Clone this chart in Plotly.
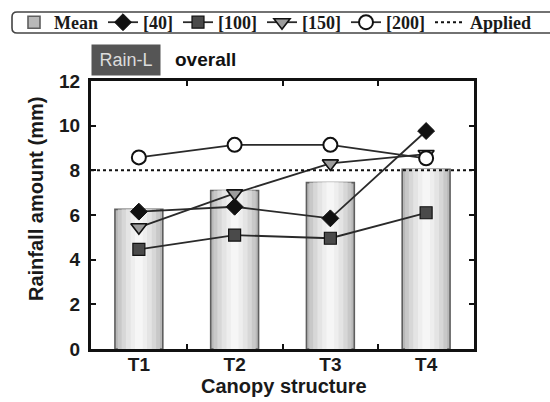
import plotly.graph_objects as go

# ---- data -------------------------------------------------------------
CATEGORIES = ["T1", "T2", "T3", "T4"]
MEAN = [6.25, 7.1, 7.45, 8.05]
S40 = [6.15, 6.37, 5.85, 9.76]
S100 = [4.46, 5.1, 4.96, 6.1]
S150 = [5.45, 6.97, 8.31, 8.73]
S200 = [8.58, 9.14, 9.14, 8.54]
APPLIED = 8.0
Y_TICKS = [0, 2, 4, 6, 8, 10, 12]

# ---- geometry (pixels) --------------------------------------------------
W, H = 550, 402
PX_L, PX_R, PX_T, PX_B = 91, 474, 81, 349

SANS = "Liberation Sans, Arial, sans-serif"
SERIF = "Liberation Serif, Times New Roman, serif"


def px_x(px):
    return px / W


def px_y(px):
    return 1 - px / H


def rounded_box(x0, y0, x1, y1, r):
    """SVG path (paper coords) of a rounded rectangle given in pixels."""
    X = lambda v: f"{px_x(v):.5f}"
    Y = lambda v: f"{px_y(v):.5f}"
    return (f"M{X(x0 + r)},{Y(y0)} L{X(x1 - r)},{Y(y0)} Q{X(x1)},{Y(y0)} {X(x1)},{Y(y0 + r)} "
            f"L{X(x1)},{Y(y1 - r)} Q{X(x1)},{Y(y1)} {X(x1 - r)},{Y(y1)} "
            f"L{X(x0 + r)},{Y(y1)} Q{X(x0)},{Y(y1)} {X(x0)},{Y(y1 - r)} "
            f"L{X(x0)},{Y(y0 + r)} Q{X(x0)},{Y(y0)} {X(x0 + r)},{Y(y0)} Z")


fig = go.Figure()

# Mean bars: a wide darker layer under narrower lighter ones gives a shaded column
shade = [(0.50, "#b8b8b8"), (0.44, "#c8c8c8"), (0.36, "#d7d7d7"),
         (0.27, "#e4e4e4"), (0.17, "#eeeeee"), (0.08, "#f6f6f6")]
for i, (w, c) in enumerate(shade):
    fig.add_bar(
        x=CATEGORIES, y=MEAN, width=w, name="Mean", legendgroup="mean",
        showlegend=(i == 0), hoverinfo="skip",
        marker=dict(color=c, line=dict(color="#5e5e5e" if i == 0 else c,
                                       width=1.6 if i == 0 else 0)),
    )

series = [
    ("[40]", S40, dict(symbol="diamond", size=13, color="#111111",
                       line=dict(color="#111111", width=1))),
    ("[100]", S100, dict(symbol="square", size=12, color="#4a4a4a",
                         line=dict(color="#111111", width=1.2))),
    ("[150]", S150, dict(symbol="triangle-down", size=14, color="#9c9c9c",
                         line=dict(color="#111111", width=1.6))),
    ("[200]", S200, dict(symbol="circle", size=14, color="white",
                         line=dict(color="#111111", width=2))),
]
for name, vals, mk in series:
    fig.add_scatter(x=CATEGORIES, y=vals, name=name, mode="lines+markers",
                    line=dict(color="#2a2a2a", width=1.8), marker=mk)

# applied rainfall reference line spanning the full plot width
fig.add_scatter(x=[0, 1], y=[APPLIED, APPLIED], xaxis="x2", name="Applied",
                mode="lines", line=dict(color="#111111", width=2, dash="dot"))

axis_common = dict(
    showline=True, linewidth=3, linecolor="#111111", mirror="ticks",
    ticks="inside", ticklen=5, tickwidth=1.5, tickcolor="#111111",
    showgrid=False, zeroline=False, automargin=False,
    tickfont=dict(family=SANS, size=19, color="#1a1a1a", weight="bold"),
)

fig.update_layout(
    width=W, height=H,
    margin=dict(l=0, r=0, t=0, b=0, autoexpand=False),
    paper_bgcolor="white", plot_bgcolor="white",
    barmode="overlay",
    xaxis=dict(type="category", domain=[px_x(PX_L), px_x(PX_R)], range=[-0.5, 3.5],
               tickson="boundaries", anchor="y", ticklabelstandoff=-4, **axis_common),
    xaxis2=dict(overlaying="x", range=[0, 1], visible=False, anchor="y",
                automargin=False),
    yaxis=dict(domain=[px_y(PX_B), px_y(PX_T)], range=[0, 12],
               tickvals=Y_TICKS, anchor="x", ticklabelstandoff=4, **axis_common),
    legend=dict(
        orientation="h", x=px_x(14), y=px_y(4), xanchor="left", yanchor="top",
        bgcolor="rgba(0,0,0,0)", borderwidth=0,
        font=dict(family=SERIF, size=18, color="#1a1a1a", weight="bold"),
        traceorder="normal",
    ),
    shapes=[
        # frame around the key
        dict(type="path", xref="paper", yref="paper", layer="below",
             path=rounded_box(12, 12, 566, 33, 5),
             line=dict(color="#444444", width=1.6), fillcolor="white"),
    ],
    annotations=[
        dict(text="Rain-L", x=px_x(126), y=px_y(60), xref="paper", yref="paper",
             xanchor="center", yanchor="middle",
             showarrow=False, bgcolor="#555555", width=60, height=22, borderpad=4,
             font=dict(family=SANS, size=18, color="#dcdcdc")),
        dict(text="overall", x=px_x(173), y=px_y(60), xref="paper", yref="paper",
             xanchor="left", yanchor="middle", showarrow=False,
             font=dict(family=SANS, size=19, color="#111111", weight="bold")),
        dict(text="Rainfall amount (mm)", x=px_x(36), y=px_y(199),
             xref="paper", yref="paper", textangle=-90, showarrow=False,
             xanchor="center", yanchor="middle",
             font=dict(family=SANS, size=20, color="#1a1a1a", weight="bold")),
        dict(text="Canopy structure", x=px_x(284), y=px_y(386),
             xref="paper", yref="paper", showarrow=False,
             xanchor="center", yanchor="middle",
             font=dict(family=SANS, size=20, color="#1a1a1a", weight="bold")),
    ],
)

fig.write_html("out.html")
